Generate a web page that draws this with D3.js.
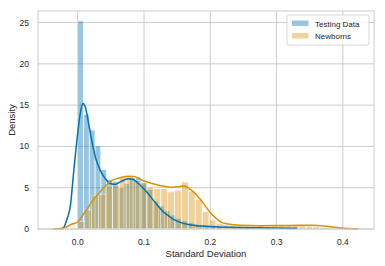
<!DOCTYPE html>
<html>
<head>
<meta charset="utf-8">
<script src="https://cdn.jsdelivr.net/npm/d3@7"></script>
<style>
  body { margin: 0; background: #fff; }
  text { font-family: Arial, "Liberation Sans", sans-serif; fill: #262626; }
</style>
</head>
<body>
<script>
/*global d3*/

var width = 385, height = 266;

// histogram bins (start, width, density)
var testStart = 0.0, testBinWidth = 0.0087;
var testDensity = [25.2, 13.9, 12.0, 10.1, 7.2, 6.0, 5.8, 5.0, 5.5, 6.2, 6.3, 5.6, 4.8, 3.4, 2.8,
                   2.2, 1.7, 1.3, 1.0, 0.8, 0.6, 0.5, 0.4, 0.35, 0.3, 0.3, 0.25, 0.2, 0.2, 0.2,
                   0.15, 0.15, 0.1, 0.1, 0.1];
var bornStart = 0.0, bornBinWidth = 0.01043;
var bornDensity = [0.9, 2.3, 4.0, 4.2, 5.2, 5.3, 6.2, 6.4, 5.9, 5.6, 5.1, 4.9, 4.9, 4.5, 4.7,
                   5.7, 4.6, 3.6, 2.1, 1.1, 0.7, 0.5, 0.45, 0.4, 0.4, 0.35, 0.4, 0.35, 0.4, 0.45,
                   0.4, 0.5, 0.4, 0.35, 0.3, 0.2, 0.15];

// kde curves
var testKdeX = [-0.0249, -0.0204, -0.0158, -0.0113, -0.0063, -0.0012, 0.0038, 0.0078, 0.0113, 0.0163,
                0.0214, 0.0264, 0.0339, 0.0415, 0.049, 0.0566, 0.0641, 0.0762, 0.0837, 0.0943,
                0.1018, 0.1109, 0.12, 0.1275, 0.135, 0.144, 0.1546, 0.1667, 0.18, 0.2,
                0.23, 0.26, 0.29, 0.331];
var testKdeY = [0, 0.3, 1.3, 2.7, 6.8, 10.8, 14.0, 15.2, 14.8, 12.8,
                10.6, 8.75, 7.1, 6.1, 5.5, 5.4, 5.7, 6.1, 6.0, 5.3,
                4.7, 3.8, 2.9, 2.2, 1.7, 1.2, 0.8, 0.55, 0.4, 0.3,
                0.2, 0.15, 0.12, 0.1];
var bornKdeX = [-0.0374, -0.0264, -0.0189, -0.0083, 0.0, 0.0068, 0.0158, 0.0219, 0.0339, 0.043,
                0.052, 0.0641, 0.0762, 0.0852, 0.0973, 0.1124, 0.1275, 0.1425, 0.1546, 0.1606,
                0.1682, 0.1772, 0.1848, 0.1923, 0.1998, 0.2074, 0.2149, 0.227, 0.245, 0.275,
                0.305, 0.336, 0.355, 0.373, 0.388, 0.403, 0.423];
var bornKdeY = [0, 0.05, 0.2, 0.6, 0.85, 1.6, 2.6, 3.4, 4.5, 5.3,
                5.9, 6.2, 6.4, 6.35, 5.9, 5.5, 5.2, 5.05, 5.15, 5.2,
                4.9, 4.3, 3.6, 2.8, 2.0, 1.4, 0.9, 0.6, 0.45, 0.4,
                0.42, 0.45, 0.45, 0.35, 0.2, 0.1, 0.02];

var xTicks = [0.0, 0.1, 0.2, 0.3, 0.4];
var yTicks = [0, 5, 10, 15, 20, 25];
var seriesNames = ["Testing Data", "Newborns"];
var seriesColors = ["#0173b2", "#de8f05"];

var plotLeft = 38, plotRight = 374, plotTop = 11, plotBottom = 229;

var x = d3.scaleLinear().domain([-0.06, 0.447]).range([plotLeft, plotRight]);
var y = d3.scaleLinear().domain([0, 26.4]).range([plotBottom, plotTop]);

var svg = d3.select("body").append("svg")
    .attr("width", width)
    .attr("height", height);

// grid
svg.append("g").selectAll("line").data(xTicks).enter().append("line")
    .attr("x1", d => x(d)).attr("x2", d => x(d))
    .attr("y1", plotTop).attr("y2", plotBottom)
    .attr("stroke", "#cccccc").attr("stroke-width", 1);
svg.append("g").selectAll("line").data(yTicks).enter().append("line")
    .attr("x1", plotLeft).attr("x2", plotRight)
    .attr("y1", d => y(d)).attr("y2", d => y(d))
    .attr("stroke", "#cccccc").attr("stroke-width", 1);

function bars(start, bw, vals, color) {
    svg.append("g").selectAll("rect").data(vals).enter().append("rect")
        .attr("x", (d, i) => x(start + i * bw))
        .attr("width", (d, i) => x(start + (i + 1) * bw) - x(start + i * bw))
        .attr("y", d => y(d))
        .attr("height", d => plotBottom - y(d))
        .attr("fill", color)
        .attr("stroke", "#fff")
        .attr("stroke-width", 0.8)
        .attr("opacity", 0.4);
}

function kde(xs, ys, color) {
    var line = d3.line()
        .x(d => x(d[0]))
        .y(d => y(d[1]))
        .curve(d3.curveMonotoneX);
    svg.append("path")
        .datum(xs.map((v, i) => [v, ys[i]]))
        .attr("d", line)
        .attr("fill", "none")
        .attr("stroke", color)
        .attr("stroke-width", 1.5);
}

bars(testStart, testBinWidth, testDensity, seriesColors[0]);
bars(bornStart, bornBinWidth, bornDensity, seriesColors[1]);
kde(testKdeX, testKdeY, seriesColors[0]);
kde(bornKdeX, bornKdeY, seriesColors[1]);

// frame
svg.append("rect")
    .attr("x", plotLeft).attr("y", plotTop)
    .attr("width", plotRight - plotLeft).attr("height", plotBottom - plotTop)
    .attr("fill", "none").attr("stroke", "#cccccc").attr("stroke-width", 1);

// tick labels
svg.append("g").selectAll("text").data(xTicks).enter().append("text")
    .attr("x", d => x(d)).attr("y", 245)
    .attr("text-anchor", "middle")
    .attr("font-size", "8.5px")
    .text(d => d3.format(".1f")(d));
svg.append("g").selectAll("text").data(yTicks).enter().append("text")
    .attr("x", 29).attr("y", d => y(d) + 3)
    .attr("text-anchor", "end")
    .attr("font-size", "8.5px")
    .text(d => d);

// axis labels
svg.append("text")
    .attr("x", (plotLeft + plotRight) / 2).attr("y", 257)
    .attr("text-anchor", "middle")
    .attr("font-size", "9.5px")
    .text("Standard Deviation");
svg.append("text")
    .attr("transform", "translate(15," + ((plotTop + plotBottom) / 2) + ") rotate(-90)")
    .attr("text-anchor", "middle")
    .attr("font-size", "9.5px")
    .text("Density");

// legend
var legend = svg.append("g");
legend.append("rect")
    .attr("x", 287).attr("y", 15).attr("width", 82).attr("height", 30)
    .attr("rx", 2)
    .attr("fill", "#fff").attr("fill-opacity", 0.8)
    .attr("stroke", "#cccccc").attr("stroke-width", 0.8);
seriesNames.forEach(function (name, i) {
    legend.append("rect")
        .attr("x", 292).attr("y", 20.5 + i * 12.5)
        .attr("width", 16.5).attr("height", 5.5)
        .attr("fill", seriesColors[i]).attr("opacity", 0.4);
    legend.append("text")
        .attr("x", 315).attr("y", 26.5 + i * 12.5)
        .attr("font-size", "8px")
        .text(name);
});
</script>
</body>
</html>
